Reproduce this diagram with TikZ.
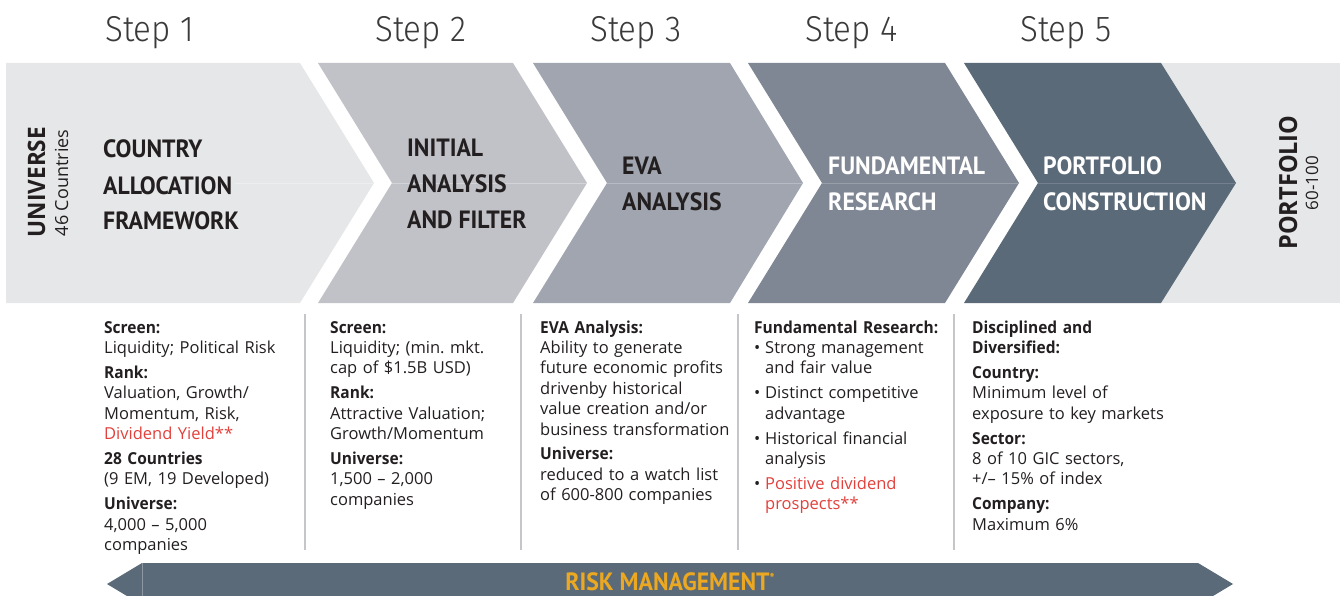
\documentclass[tikz,border=0pt]{standalone}
\usepackage{fontspec}
\setmainfont{Open Sans}[BoldFeatures={FakeStretch=0.94}]
\newfontfamily\headfont{PT Sans}[FakeStretch=0.95]
\newfontfamily\stepfont{Fira Sans Light}[FakeStretch=0.92]
\definecolor{cA}{HTML}{E6E7E8}
\definecolor{cB}{HTML}{C1C2C7}
\definecolor{cC}{HTML}{A0A5AF}
\definecolor{cD}{HTML}{7F8794}
\definecolor{cE}{HTML}{5B6A79}
\definecolor{ink}{HTML}{231F20}
\definecolor{stepgray}{HTML}{3A3A3C}
\definecolor{redc}{HTML}{E2403B}
\definecolor{gold}{HTML}{EBA820}
\definecolor{divgray}{HTML}{C5C6C9}
\frenchspacing
\begin{document}
\begin{tikzpicture}[x=1pt,y=-1pt,
  steplabel/.style={anchor=base west, inner sep=0pt, text=stepgray,
    font=\stepfont\fontsize{36}{36}\selectfont},
  head/.style={anchor=base west, inner sep=0pt, align=left, text width=250pt, text=ink,
    font=\headfont\bfseries\fontsize{25}{36}\selectfont},
  headw/.style={head, text=white},
  body/.style={anchor=base west, inner sep=0pt, align=left, text width=215pt, text=ink,
    font=\frenchspacing\fontsize{16.5}{20.4}\selectfont},
  vbig/.style={rotate=90, anchor=base, inner sep=0pt, text=ink, font=\bfseries\fontsize{24}{24}\selectfont},
  vsmall/.style={rotate=90, anchor=base, inner sep=0pt, text=ink, font=\fontsize{18}{18}\selectfont},
  divider/.style={draw=divgray, line width=2.5pt},
  seam/.style={line width=0.7pt}]
\clip (0,0) rectangle (1340,596);
% chevrons
\fill[cA] (6,63) -- (300,63) -- (374,183) -- (300,303) -- (6,303) -- cycle;
\fill[cA] (1100,63) rectangle (1340,303);
\fill[cB] (318,63) -- (513,63) -- (587,183) -- (513,303) -- (318,303) -- (392,183) -- cycle;
\fill[cC] (533,63) -- (730,63) -- (803,183) -- (730,303) -- (533,303) -- (607,183) -- cycle;
\fill[cD] (748,63) -- (945,63) -- (1019,183) -- (945,303) -- (748,303) -- (822,183) -- cycle;
\fill[cE] (964,63) -- (1161,63) -- (1236,183) -- (1161,303) -- (964,303) -- (1038,183) -- cycle;
% seams
\draw[seam, cA!70!white] (235,183) -- (374,183);
\draw[seam, cB!70!white] (392,183) -- (587,183);
\draw[seam, cC!75!white] (607,183) -- (803,183);
\draw[seam, cD!80!white] (822,183) -- (1019,183);
\draw[seam, cE!85!white] (1038,183) -- (1236,183);
% step labels
\node[steplabel] (s1) at (105,42) {Step 1};
\node[steplabel] (s2) at (375,42) {Step 2};
\node[steplabel] (s3) at (590,42) {Step 3};
\node[steplabel] (s4) at (805,42) {Step 4};
\node[steplabel] (s5) at (1020,42) {Step 5};
% side labels
\node[vbig] (universe) at (45,182) {UNIVERSE};
\node[vsmall] (countries) at (68,183) {46 Countries};
\node[vbig, font=\bfseries\fontsize{25}{25}\selectfont] (portfolio) at (1297,182.5) {PORTFOLIO};
\node[vsmall, font=\fontsize{17}{17}\selectfont] (range) at (1318,183) {60-100};
% headings
\node[head] (h1) at (103,158) {COUNTRY\\ALLOCATION\\FRAMEWORK};
\node[head] (h2) at (407,157) {INITIAL\\ANALYSIS\\AND\hspace{6pt}FILTER};
\node[head] (h3) at (622,175) {EVA\\ANALYSIS};
\node[headw] (h4) at (828,175) {FUNDAMENTAL\\RESEARCH};
\node[headw] (h5) at (1043,175) {PORTFOLIO\\CONSTRUCTION};
% dividers
\draw[divider] (305,314) -- (305,550);
\draw[divider] (521,314) -- (521,550);
\draw[divider] (738,314) -- (738,550);
\draw[divider] (954,314) -- (954,550);
% column texts
\node[body] (t1) at (104,333) {{\bfseries Screen:}\\
Liquidity; Political Risk\\[4.5pt]
{\bfseries Rank:}\\
Valuation, Growth/\\
Momentum, Risk,\\
\textcolor{redc}{Dividend Yield**}\\[4.5pt]
{\bfseries 28 Countries}\\
(9 EM, 19 Developed)\\[4.5pt]
{\bfseries Universe:}\\
4,000 – 5,000\\
companies};
\node[body] (t2) at (330,333) {{\bfseries Screen:}\\
Liquidity; (min. mkt.\\
cap of \$1.5B USD)\\[4.5pt]
{\bfseries Rank:}\\
Attractive Valuation;\\
Growth/Momentum\\[4.5pt]
{\bfseries Universe:}\\
1,500 – 2,000\\
companies};
\node[body] (t3) at (540,333) {{\bfseries EVA Analysis:}\\
Ability to generate\\
future economic profits\\
drivenby historical\\
value creation and/or\\
business transformation\\[4.5pt]
{\bfseries Universe:}\\
reduced to a watch list\\
of 600-800 companies};
\node[body] (t4) at (754,333) {{\bfseries Fundamental Research:}\\
\makebox[11pt][l]{\textbullet}Strong management\\
\hspace*{11pt}and fair value\\[4.5pt]
\makebox[11pt][l]{\textbullet}Distinct competitive\\
\hspace*{11pt}advantage\\[4.5pt]
\makebox[11pt][l]{\textbullet}Historical financial\\
\hspace*{11pt}analysis\\[4.5pt]
\makebox[11pt][l]{\textbullet}\textcolor{redc}{Positive dividend}\\
\hspace*{11pt}\textcolor{redc}{prospects**}};
\node[body] (t5) at (972,333) {{\bfseries Disciplined and}\\
{\bfseries Diversified:}\\[4.5pt]
{\bfseries Country:}\\
Minimum level of\\
exposure to key markets\\[4.5pt]
{\bfseries Sector:}\\
8 of 10 GIC sectors,\\
+/– 15\% of index\\[4.5pt]
{\bfseries Company:}\\
Maximum 6\%};
% risk management bar
\fill[cE] (142,563) -- (1198,563) -- (1233,584) -- (1198,605) -- (142,605) -- (107,584) -- cycle;
\draw[cE!70!white, line width=0.6pt] (142,563) -- (142,605);
\node[anchor=base, inner sep=0pt, text=gold, font=\headfont\bfseries\fontsize{25}{25}\selectfont] (risk) at (670,590)
  {RISK MANAGEMENT\raisebox{7pt}{\fontsize{14}{14}\selectfont *}};
\end{tikzpicture}
\end{document}
